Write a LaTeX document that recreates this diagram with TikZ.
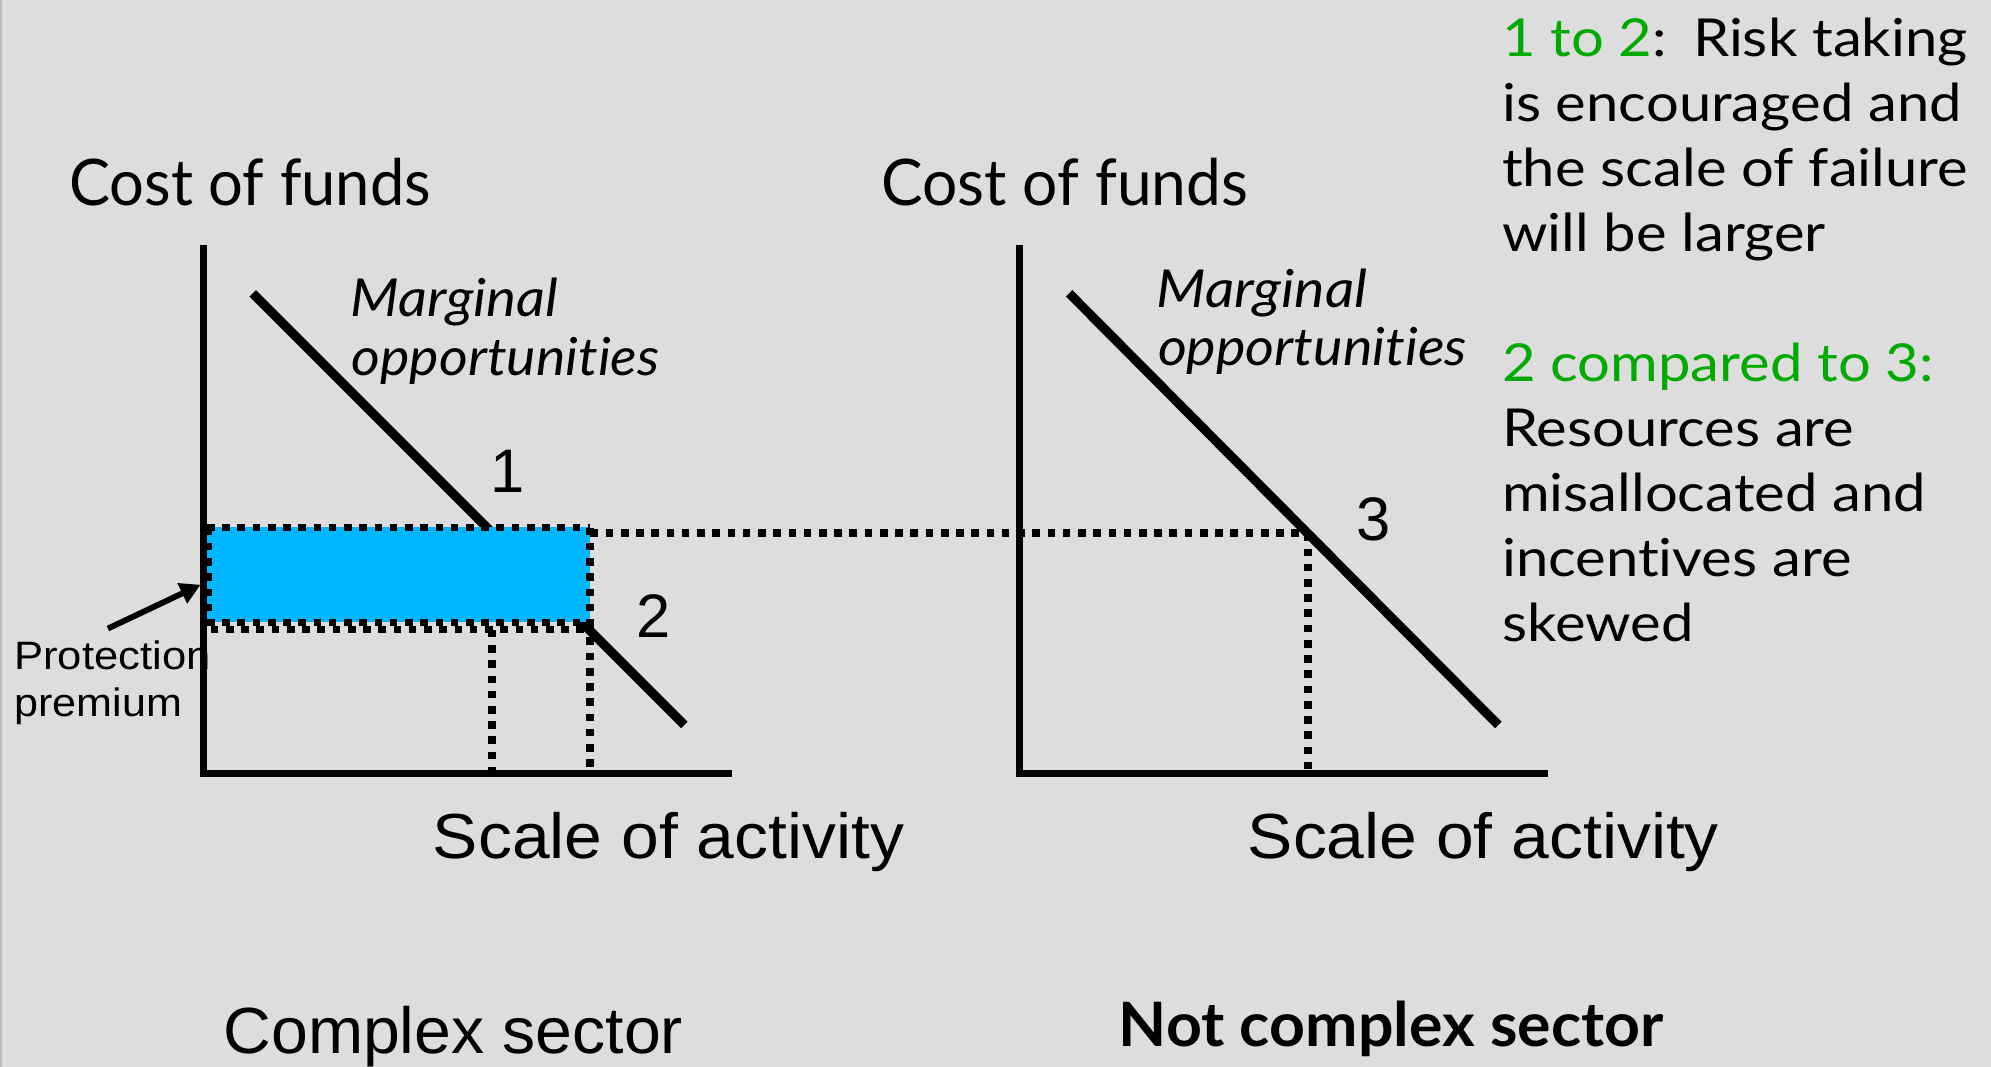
\documentclass[tikz,border=0pt]{standalone}
\usepackage{fontspec}
\usepackage{graphicx}
\setmainfont{Lato}[Ligatures={NoCommon}]
\newfontfamily\arialf{Liberation Sans}
\usetikzlibrary{arrows.meta}
\definecolor{bgc}{RGB}{221,221,221}
\definecolor{edgec}{RGB}{188,188,188}
\definecolor{protc}{RGB}{0,183,255}
\definecolor{grn}{RGB}{0,170,0}
\newsavebox\fitbox
\newcommand\fitw[2]{\sbox\fitbox{#2}\pgfmathsetmacro\fitf{#1/\the\wd\fitbox}\scalebox{\fitf}[1]{\usebox\fitbox}}
\newcommand\rscale[1]{\scalebox{\rbf}[1]{#1}}
\begin{document}
\sbox\fitbox{\fontsize{20.6}{25}\selectfont is encouraged and}%
\pgfmathsetmacro\rbf{181/\the\wd\fitbox}%
\begin{tikzpicture}[x=0.5pt,y=-0.5pt,
  lbl/.style={inner sep=0pt, outer sep=0pt, anchor=base west},
  axtitle/.style={lbl, font=\fontsize{25.3}{30}\selectfont},
  marg/.style={lbl, font=\fontsize{20.6}{24}\selectfont\itshape},
  xlab/.style={lbl, font=\arialf\fontsize{25.1}{30}\selectfont},
  sector/.style={lbl, font=\arialf\fontsize{25.7}{30}\selectfont},
  ptlabel/.style={inner sep=0pt, outer sep=0pt, anchor=center, font=\arialf\fontsize{24.2}{29}\selectfont},
  prottext/.style={lbl, font=\arialf\fontsize{15.6}{19}\selectfont},
  rtext/.style={lbl, font=\fontsize{20.6}{25}\selectfont},
  axisline/.style={line width=2.7pt, line join=miter, line cap=butt},
  demand/.style={line width=3.6pt},
  dotln/.style={line width=3pt, dash pattern=on 3pt off 3pt},
]
% background
\fill[bgc] (0,0) rectangle (1568,840);
\useasboundingbox (0,0) rectangle (1568,840);
\draw[edgec, line width=0.9pt] (0.9,0) -- (0.9,840);

% ---------- left chart ----------
\coordinate (LD1) at (199,231);
\coordinate (LD2) at (539,571);
\draw[demand] (LD1) -- (LD2);
\fill[protc] (163.3,415) rectangle (464.6,489.6);
\draw[dotln] (163,415.5) -- (464.5,415.5);
\draw[dotln] (164,415.5) -- (164,490);
\draw[dotln] (464.5,415.5) -- (464.5,490);
\draw[dotln] (163,490.3) -- (464.5,490.3);
\draw[dotln] (166,495.8) -- (464.5,495.8);
\draw[dotln] (387.4,496) -- (387.4,609);
\draw[dotln] (464.5,490) -- (464.5,609);
\draw[dotln] (465,420) -- (1030,420);
\draw[axisline] (160,193) -- (160,609) -- (576.5,609);

\coordinate (arrS) at (85,495);
\coordinate (arrE) at (158,460.5);
\draw[line width=2.3pt, -{Triangle[length=8pt,width=8.4pt]}] (arrS) -- (arrE);

\node[axtitle] (cfL) at (54.5,162) {\fitw{142.5}{Cost of funds}};
\node[marg] (mgL) at (276,249) {\fitw{81.8}{Marginal}};
\node[marg] (opL) at (277,296) {\fitw{121.2}{opportunities}};
\node[ptlabel] (p1) at (399.5,371) {1};
\node[ptlabel] (p2) at (514.8,485) {2};
\node[prottext] (pr1) at (11.3,527.6) {\fitw{77.3}{Protection}};
\node[prottext] (pr2) at (11.3,564.4) {\fitw{66}{premium}};
\node[xlab] (saL) at (341,676) {\fitw{185.5}{Scale of activity}};
\node[sector] (csL) at (176,829.5) {\fitw{181}{Complex sector}};

% ---------- right chart ----------
\coordinate (RD1) at (842,231);
\coordinate (RD2) at (1180,571);
\draw[demand] (RD1) -- (RD2);
\draw[dotln] (1030,420) -- (1030,609);
\draw[axisline] (803,193) -- (803,609) -- (1219,609);

\node[axtitle] (cfR) at (694,162) {\fitw{144.5}{Cost of funds}};
\node[marg] (mgR) at (911,242) {\fitw{83}{Marginal}};
\node[marg] (opR) at (912,288) {\fitw{121.6}{opportunities}};
\node[ptlabel] (p3) at (1081.5,409) {3};
\node[xlab] (saR) at (982.7,676) {\fitw{185.5}{Scale of activity}};
\node[lbl, font=\fontsize{24.1}{29}\selectfont\bfseries] (ncR) at (881,824.3) {\fitw{214.5}{Not complex sector}};

% ---------- right text ----------
\node[rtext] (t1) at (1183,44.4) {\rscale{\textcolor{grn}{1 to 2}:\hspace{0.45em}Risk taking}};
\node[rtext] (t2) at (1183,95.6) {\rscale{is encouraged and}};
\node[rtext] (t3) at (1183,146.8) {\rscale{the scale of failure}};
\node[rtext] (t4) at (1183,198) {\rscale{will be larger}};
\node[rtext] (t5) at (1183,300.4) {\rscale{\textcolor{grn}{2 compared to 3:}}};
\node[rtext] (t6) at (1183,351.6) {\rscale{Resources are}};
\node[rtext] (t7) at (1183,402.8) {\rscale{misallocated and}};
\node[rtext] (t8) at (1183,454) {\rscale{incentives are}};
\node[rtext] (t9) at (1183,505.2) {\rscale{skewed}};
\end{tikzpicture}
\end{document}
